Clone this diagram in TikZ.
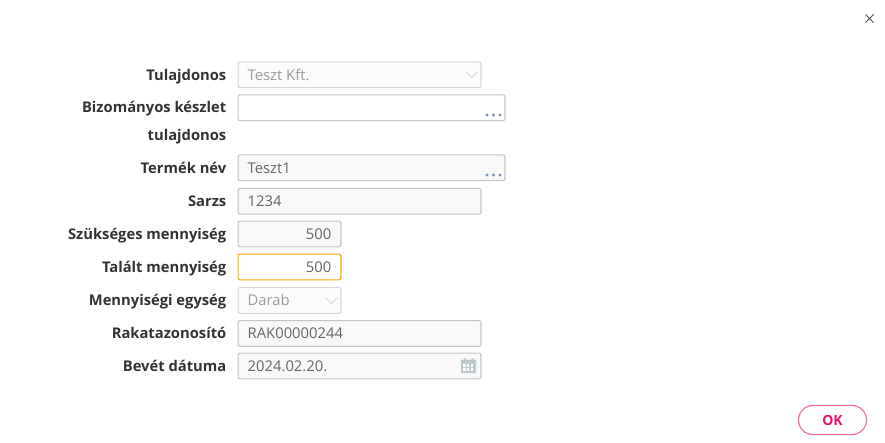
\documentclass[tikz,border=0pt]{standalone}
\usepackage{fontspec}
\setmainfont{Open Sans}
\usepackage{xcolor}
\usetikzlibrary{positioning}
\definecolor{fieldline}{HTML}{C4C4C4}
\definecolor{fieldfill}{HTML}{F8F8F8}
\definecolor{labeltext}{HTML}{333333}
\definecolor{valuetext}{HTML}{666666}
\definecolor{mutedtext}{HTML}{9C9C9C}
\definecolor{dotblue}{HTML}{7092BC}
\definecolor{iconfill}{HTML}{BCC9D0}
\definecolor{okpink}{HTML}{E6106E}
\definecolor{okline}{HTML}{F06CA6}
\tikzset{
  fieldbox/.style={draw=fieldline, line width=1.1pt, fill=fieldfill, rounded corners=2pt, anchor=north west, inner sep=0pt, minimum height=#1},
  fieldbox/.default=25.8pt,
  wide/.style={minimum width=242.9pt},
  wider/.style={minimum width=266.9pt},
  narrow/.style={minimum width=102.9pt},
  labelfont/.style={inner sep=0pt, text=labeltext, text height=13pt, text depth=2pt, font=\fontsize{14.75}{14.75}\selectfont\bfseries, anchor=east},
  fieldlabel/.style={left=11pt of #1, labelfont},
  fieldvalue/.style={anchor=west, inner sep=0pt, text=valuetext, text height=13pt, text depth=2pt, font=\fontsize{14.8}{14.8}\selectfont},
  dotmark/.style={circle, fill=dotblue, minimum size=3.4pt, inner sep=0pt},
}
\begin{document}
\begin{tikzpicture}[x=1pt, y=-1pt]
  \useasboundingbox (0,0) rectangle (885,442);
  \node[fieldbox, wide, draw=fieldline!70, fill=fieldfill!60] (owner) at (237.5,61.3) {};
  \node[fieldbox, wider, fill=white] (consign) at (237.5,94.3) {};
  \node[fieldbox, wider] (product) at (237.5,154.3) {};
  \node[fieldbox, wide] (batch) at (237.5,187.8) {};
  \node[fieldbox, narrow] (needed) at (237.5,220.5) {};
  \node[fieldbox, narrow, draw=orange!70!yellow, fill=white] (found) at (237.5,253.5) {};
  \node[fieldbox, narrow, draw=fieldline!70, fill=fieldfill!60] (unit) at (237.5,287) {};
  \node[fieldbox, wide] (rack) at (237.5,320) {};
  \node[fieldbox, wide] (date) at (237.5,352.5) {};
  % labels
  \node[fieldlabel=owner] (ownerlabel) {Tulajdonos};
  \node[labelfont] (consignlabel) at (226.5,107) {Bizományos készlet};
  \node[labelfont] (consignlabeltwo) at (226.5,135) {tulajdonos};
  \node[fieldlabel=product] (productlabel) {Termék név};
  \node[fieldlabel=batch] (batchlabel) {Sarzs};
  \node[fieldlabel=needed] (neededlabel) {Szükséges mennyiség};
  \node[fieldlabel=found] (foundlabel) {Talált mennyiség};
  \node[fieldlabel=unit] (unitlabel) {Mennyiségi egység};
  \node[fieldlabel=rack] (racklabel) {Rakatazonosító};
  \node[fieldlabel=date] (datelabel) {Bevét dátuma};
  % values
  \node[fieldvalue, text=mutedtext, right=10pt of owner.west] (ownervalue) {Teszt Kft.};
  \node[fieldvalue, right=10pt of product.west] (productvalue) {Teszt1};
  \node[fieldvalue, right=10pt of batch.west] (batchvalue) {1234};
  \node[fieldvalue, anchor=east, left=10pt of needed.east] (neededvalue) {500};
  \node[fieldvalue, anchor=east, left=10pt of found.east] (foundvalue) {500};
  \node[fieldvalue, text=mutedtext, right=10pt of unit.west] (unitvalue) {Darab};
  \node[fieldvalue, right=10pt of rack.west] (rackvalue) {RAK00000244};
  \node[fieldvalue, right=10pt of date.west] (datevalue) {2024.02.20.};
  % chevrons
  \draw[fieldline!70, line width=0.8pt] (466,72) -- (471.5,77.5) -- (477,72);
  \draw[fieldline!70, line width=0.8pt] (326,298) -- (331.5,303.5) -- (337,298);
  % dots
  \foreach \rowy/\rowname in {115/c, 175/p} {
    \foreach \dotx/\dotname in {487/a, 493.5/b, 500/d}
      \node[dotmark] (dot\rowname\dotname) at (\dotx,\rowy) {};
  }
  % calendar
  \fill[iconfill, rounded corners=0.5pt] (461,359.5) rectangle (476,373);
  \fill[iconfill] (464,358) rectangle (465.5,361) (471.5,358) rectangle (473,361);
  \foreach \cellx in {463,466.8,470.6}
    \foreach \celly in {364,368}
      \fill[white] (\cellx,\celly) rectangle +(2.6,2.6);
  % close
  \draw[black!70, line width=1pt] (865.5,14.5) -- (873.5,22.5) (873.5,14.5) -- (865.5,22.5);
  % ok button
  \node[draw=okline, line width=1.2pt, rounded corners=14.5pt, minimum width=68pt, minimum height=29pt, inner sep=0pt, text=okpink, font=\fontsize{14}{14}\selectfont\bfseries] (okbutton) at (832.5,420) {OK};
\end{tikzpicture}
\end{document}
